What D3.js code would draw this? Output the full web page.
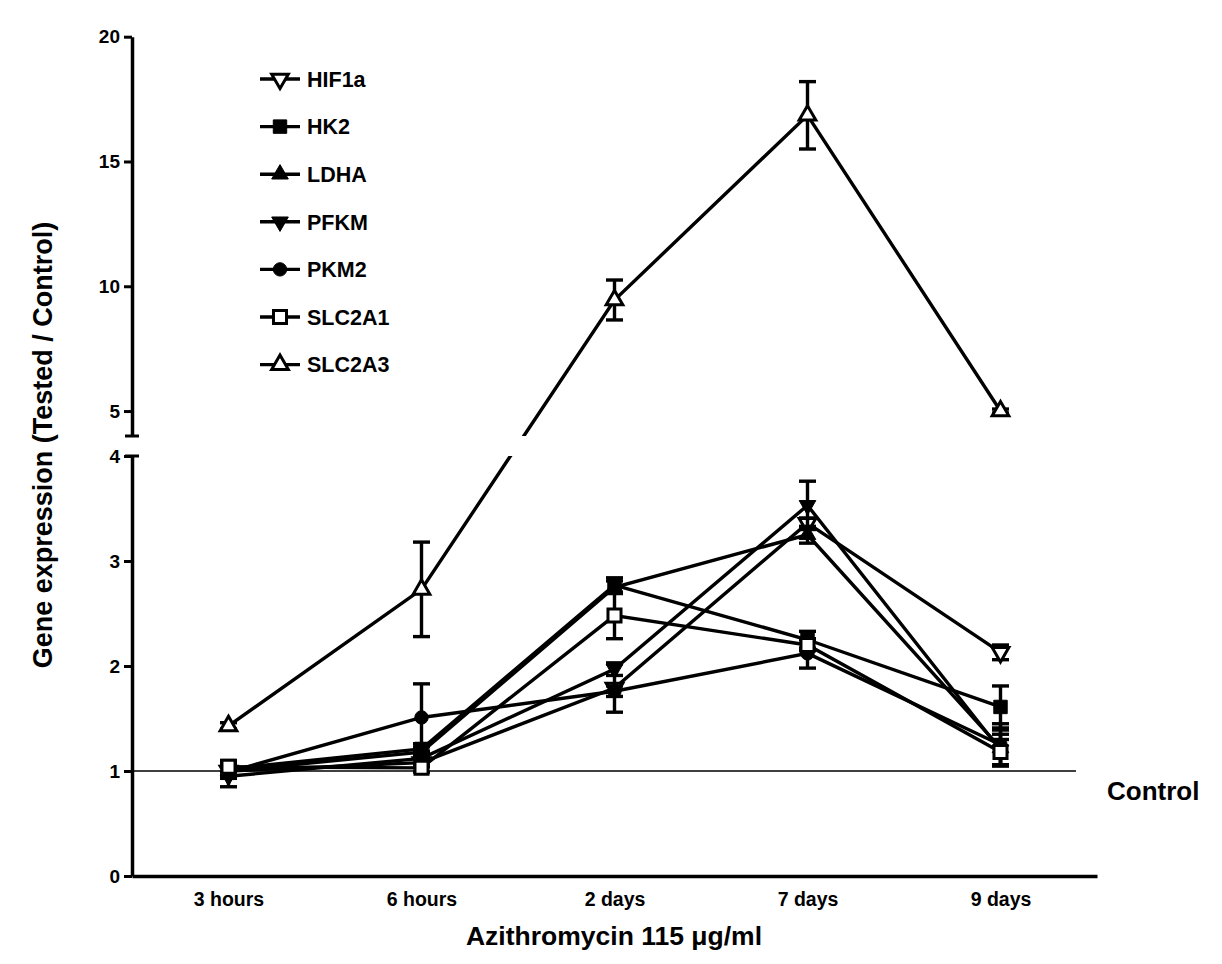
<!DOCTYPE html>
<html>
<head>
<meta charset="utf-8">
<title>Gene expression after azithromycin</title>
<script src="https://d3js.org/d3.v7.min.js"></script>
<style>
  body { margin: 0; background: #fff; }
  text { font-family: "Liberation Sans", Arial, sans-serif; font-weight: bold; fill: #000; }
</style>
</head>
<body>
<svg class="chart"></svg>
<script>
// data (mean, SEM)
const timepoints = ["3 hours", "6 hours", "2 days", "7 days", "9 days"];
const geneNames = ["HIF1a", "HK2", "LDHA", "PFKM", "PKM2", "SLC2A1", "SLC2A3"];

const hif1a     = [1.00, 1.08, 1.79, 3.36, 2.13];
const hif1aErr  = [0.06, 0.04, 0.23, 0.05, 0.07];
const hk2       = [1.02, 1.21, 2.77, 2.25, 1.61];
const hk2Err    = [0.08, 0.05, 0.07, 0.08, 0.20];
const ldha      = [1.00, 1.18, 2.75, 3.25, 1.22];
const ldhaErr   = [0.04, 0.05, 0.06, 0.08, 0.17];
const pfkm      = [0.95, 1.12, 1.97, 3.53, 1.20];
const pfkmErr   = [0.10, 0.05, 0.06, 0.23, 0.15];
const pkm2      = [0.99, 1.51, 1.76, 2.12, 1.25];
const pkm2Err   = [0.06, 0.32, 0.05, 0.14, 0.20];
const slc2a1    = [1.04, 1.03, 2.48, 2.20, 1.18];
const slc2a1Err = [0.05, 0.04, 0.22, 0.05, 0.12];
const slc2a3    = [1.43, 2.73, 9.45, 16.85, 5.00];
const slc2a3Err = [0.03, 0.45, 0.80, 1.35, 0.08];

const lowTicks = [0, 1, 2, 3, 4];
const highTicks = [5, 10, 15, 20];
const controlLevel = 1;

// marker style per gene: symbol, open?, rotated?
const markers = {
  HIF1a:  {sym: d3.symbolTriangle, open: true,  down: true,  size: 120},
  HK2:    {sym: d3.symbolSquare,   open: false, down: false, size: 180},
  LDHA:   {sym: d3.symbolTriangle, open: false, down: false, size: 120},
  PFKM:   {sym: d3.symbolTriangle, open: false, down: true,  size: 120},
  PKM2:   {sym: d3.symbolCircle,   open: false, down: false, size: 140},
  SLC2A1: {sym: d3.symbolSquare,   open: true,  down: false, size: 170},
  SLC2A3: {sym: d3.symbolTriangle, open: true,  down: false, size: 120}
};

const series = [
  {name: "HIF1a",  values: hif1a,  err: hif1aErr},
  {name: "HK2",    values: hk2,    err: hk2Err},
  {name: "LDHA",   values: ldha,   err: ldhaErr},
  {name: "PFKM",   values: pfkm,   err: pfkmErr},
  {name: "PKM2",   values: pkm2,   err: pkm2Err},
  {name: "SLC2A1", values: slc2a1, err: slc2a1Err},
  {name: "SLC2A3", values: slc2a3, err: slc2a3Err}
];

const W = 1222, H = 964;
const svg = d3.select(".chart").attr("width", W).attr("height", H);

// broken y axis: two linear pieces
const axisX = 132;
const yLow = d3.scaleLinear().domain([0, 4]).range([876, 456]);
const yHigh = d3.scaleLinear().domain([4, 20]).range([436, 36.7]);
function yVal(v) { return v <= 4 ? yLow(v) : yHigh(v); }

const x = d3.scalePoint().domain(timepoints).range([axisX, 1097]).padding(0.5);

// clip out the break band so lines crossing it show a gap
const defs = svg.append("defs");
const clip = defs.append("clipPath").attr("id", "breakClip");
clip.append("rect").attr("x", 0).attr("y", 0).attr("width", W).attr("height", yHigh(4));
clip.append("rect").attr("x", 0).attr("y", yLow(4)).attr("width", W).attr("height", H - yLow(4));

// control line
svg.append("line")
  .attr("x1", axisX).attr("x2", 1076)
  .attr("y1", yLow(controlLevel)).attr("y2", yLow(controlLevel))
  .attr("stroke", "#000").attr("stroke-width", 1.7);

svg.append("text")
  .attr("x", 1107).attr("y", 800)
  .attr("font-size", 26)
  .text("Control");

// axes
function styleAxis(g, fs) {
  g.attr("font-size", fs).attr("font-family", null);
  g.select(".domain").attr("stroke-width", 3.5);
  g.selectAll(".tick line").attr("stroke-width", 3);
  g.selectAll(".tick text").attr("fill", "#000");
}

svg.append("g")
  .attr("transform", "translate(" + axisX + ",0)")
  .call(d3.axisLeft(yLow).tickValues(lowTicks).tickFormat(d3.format("d")).tickSize(8).tickSizeOuter(0).tickPadding(4))
  .call(g => styleAxis(g, 19));

svg.append("g")
  .attr("transform", "translate(" + axisX + ",0)")
  .call(d3.axisLeft(yHigh).tickValues(highTicks).tickFormat(d3.format("d")).tickSize(8).tickSizeOuter(0).tickPadding(4))
  .call(g => styleAxis(g, 19));

// end caps at the break
svg.append("line")
  .attr("x1", axisX - 7).attr("x2", axisX + 7)
  .attr("y1", yHigh(4)).attr("y2", yHigh(4))
  .attr("stroke", "#000").attr("stroke-width", 3);
svg.append("line")
  .attr("x1", axisX - 7).attr("x2", axisX + 7)
  .attr("y1", yLow(4)).attr("y2", yLow(4))
  .attr("stroke", "#000").attr("stroke-width", 3);

svg.append("g")
  .attr("transform", "translate(0," + yLow(0) + ")")
  .call(d3.axisBottom(x).tickSize(0).tickSizeOuter(0).tickPadding(16))
  .call(g => styleAxis(g, 19.5));

// axis titles
svg.append("text")
  .attr("text-anchor", "middle")
  .attr("transform", "translate(52,445) rotate(-90)")
  .attr("font-size", 27)
  .text("Gene expression (Tested / Control)");

svg.append("text")
  .attr("text-anchor", "middle")
  .attr("x", 614).attr("y", 945)
  .attr("font-size", 26.5)
  .text("Azithromycin 115 \u03bcg/ml");

// data
const line = d3.line()
  .x((d, i) => x(timepoints[i]))
  .y(d => yVal(d));

function drawMarker(g, name, cx, cy) {
  const m = markers[name];
  g.append("path")
    .attr("d", d3.symbol().type(m.sym).size(m.size)())
    .attr("transform", "translate(" + cx + "," + cy + ")" + (m.down ? " rotate(180)" : ""))
    .attr("fill", m.open ? "#fff" : "#000")
    .attr("stroke", "#000")
    .attr("stroke-width", m.open ? 3 : 1);
}

const plot = svg.append("g");
series.forEach(s => {
  const g = plot.append("g").attr("class", "series");
  g.append("path")
    .attr("d", line(s.values))
    .attr("fill", "none")
    .attr("stroke", "#000")
    .attr("stroke-width", 3.4)
    .attr("clip-path", "url(#breakClip)");

  s.values.forEach((v, i) => {
    const cx = x(timepoints[i]);
    const top = yVal(v + s.err[i]), bot = yVal(v - s.err[i]);
    g.append("line").attr("x1", cx).attr("x2", cx).attr("y1", top).attr("y2", bot)
      .attr("stroke", "#000").attr("stroke-width", 3.4);
    [top, bot].forEach(yy => {
      g.append("line").attr("x1", cx - 8.5).attr("x2", cx + 8.5).attr("y1", yy).attr("y2", yy)
        .attr("stroke", "#000").attr("stroke-width", 3.4);
    });
  });
  s.values.forEach((v, i) => drawMarker(g, s.name, x(timepoints[i]), yVal(v)));
});

// legend
const legend = svg.append("g");
geneNames.forEach((name, i) => {
  const ly = 79 + i * 47.6;
  legend.append("line")
    .attr("x1", 260).attr("x2", 300).attr("y1", ly).attr("y2", ly)
    .attr("stroke", "#000").attr("stroke-width", 3.4);
  drawMarker(legend, name, 280, ly);
  legend.append("text")
    .attr("x", 307).attr("y", ly).attr("dy", "0.36em")
    .attr("font-size", 21.5)
    .text(name);
});
</script>
</body>
</html>
